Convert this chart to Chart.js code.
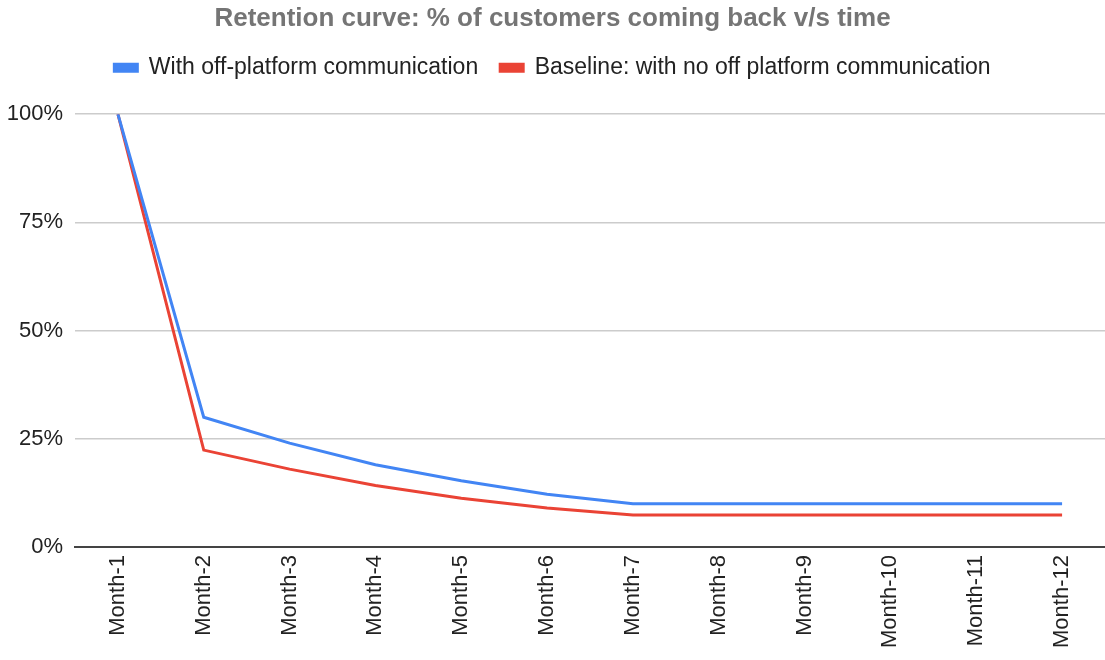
<!DOCTYPE html>
<html>
<head>
<meta charset="utf-8">
<script src="https://cdn.jsdelivr.net/npm/chart.js@4"></script>
<style>
  html, body { margin: 0; padding: 0; background: #fff; }
  #wrap { width: 1105px; height: 660px; }
</style>
</head>
<body>
<div id="wrap"><canvas id="chart"></canvas></div>
<script>
// --- data ---
const months = ['Month-1', 'Month-2', 'Month-3', 'Month-4', 'Month-5', 'Month-6',
  'Month-7', 'Month-8', 'Month-9', 'Month-10', 'Month-11', 'Month-12'];
const withComms = [100, 30, 24, 19, 15.3, 12.2, 10, 10, 10, 10, 10, 10];
const baseline = [100, 22.4, 18, 14.2, 11.3, 9, 7.4, 7.4, 7.4, 7.4, 7.4, 7.4];
const yTicks = [0, 25, 50, 75, 100];

const font = 'Liberation Sans, Arial, sans-serif';

// extra room between legend and plot
const legendMargin = {
  id: 'legendMargin',
  beforeInit(chart) {
    const fit = chart.legend.fit;
    chart.legend.fit = function () { fit.bind(chart.legend)(); this.height += 25; };
  }
};

new Chart(document.getElementById('chart'), {
  type: 'line',
  data: {
    labels: months,
    datasets: [
      { label: 'With off-platform communication', data: withComms,
        borderColor: '#4285F4', backgroundColor: '#4285F4', borderWidth: 3,
        pointRadius: 0, tension: 0 },
      { label: 'Baseline: with no off platform communication', data: baseline,
        borderColor: '#EA4335', backgroundColor: '#EA4335', borderWidth: 3,
        pointRadius: 0, tension: 0 }
    ]
  },
  plugins: [legendMargin],
  options: {
    responsive: true,
    maintainAspectRatio: false,
    animation: false,
    layout: { padding: { left: 0, right: 0, top: 1, bottom: 4 } },
    plugins: {
      title: {
        display: true,
        text: 'Retention curve: % of customers coming back v/s time',
        color: '#757575',
        font: { family: font, size: 26, weight: 'bold' },
        padding: { top: 2, bottom: 0 }
      },
      legend: {
        position: 'top',
        labels: {
          color: '#222',
          font: { family: font, size: 23 },
          boxWidth: 23, boxHeight: 7, padding: 22
        }
      },
      tooltip: { enabled: false }
    },
    scales: {
      x: {
        offset: true,
        grid: { display: false, drawTicks: false },
        border: { display: true, color: '#444', width: 2 },
        ticks: { color: '#222', font: { family: font, size: 22 },
          maxRotation: 90, minRotation: 90, padding: 8, autoSkip: false }
      },
      y: {
        min: 0, max: 100,
        afterBuildTicks: axis => { axis.ticks = yTicks.map(v => ({ value: v })); },
        afterFit: axis => { axis.width = 75; },
        grid: { color: '#cccccc', lineWidth: 1.5, drawTicks: false },
        border: { display: false },
        ticks: { color: '#222', font: { family: font, size: 22 }, padding: 12,
          callback: v => v + '%' }
      }
    }
  }
});
</script>
</body>
</html>
